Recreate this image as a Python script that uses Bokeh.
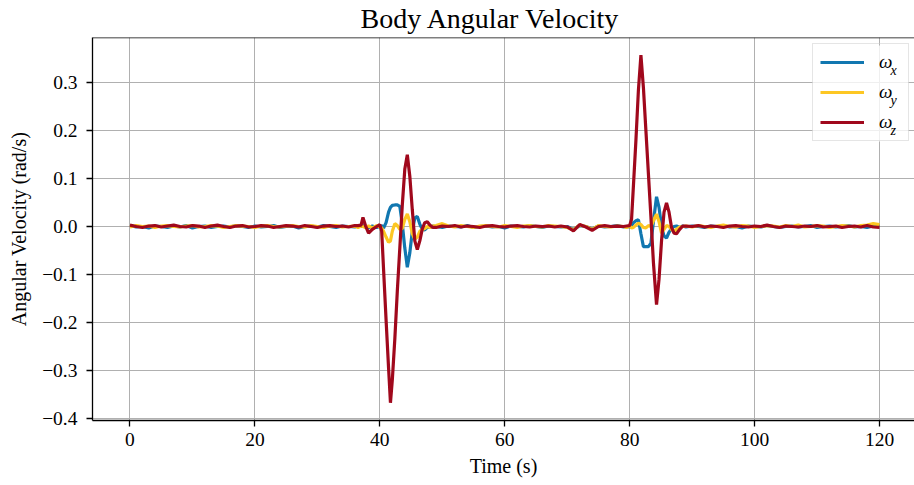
from bokeh.plotting import figure
from bokeh.models import (ColumnDataSource, Legend, LegendItem, Label, Span, BoxAnnotation,
                          Range1d, FixedTicker, CustomJSTickFormatter)
from bokeh.embed import file_html
from bokeh.resources import INLINE

# ---------------- data ----------------
# time samples (s)
t_a = list(range(0, 37))
t_b = [36.5, 37.0, 37.3, 37.7, 38.2, 38.8, 39.5, 40.0, 40.3, 40.6, 41.0, 41.4, 41.7, 42.0, 42.4,
       42.8, 43.2, 43.6, 44.0, 44.4, 44.8, 45.2, 45.6, 46.0, 46.4, 46.8, 47.2, 47.6, 48.0, 48.5]
t_c = list(range(49, 80))
t_d = [79.5, 80.0, 80.3, 80.6, 81.0, 81.4, 81.8, 82.2, 82.6, 83.0, 83.4, 83.8, 84.3, 84.7, 85.1,
       85.5, 85.9, 86.3, 86.7, 87.1, 87.5, 88.0, 88.5]
t_e = list(range(89, 121))

# omega_x (rad/s)
wx_a = [0.002, -0.001, 0.000, -0.003, 0.001, 0.000, -0.002, 0.001, -0.001, 0.002,
        -0.003, 0.000, 0.001, -0.002, 0.000, 0.001, -0.001, 0.002, 0.000, -0.002,
        0.001, -0.001, 0.000, 0.002, -0.002, 0.000, 0.001, -0.003, 0.000, 0.001,
        -0.001, 0.002, 0.000, -0.002, 0.001, 0.000, -0.001]
wx_b = [0.001, 0.000, 0.002, -0.001, -0.003, 0.001, -0.002, 0.000, 0.002, -0.003,
        0.008, 0.030, 0.040, 0.044, 0.045, 0.045, 0.042, 0.005, -0.045, -0.085,
        -0.055, -0.010, 0.018, 0.021, 0.005, -0.006, -0.007, -0.002, -0.002, 0.001]
wx_c = [0.000, -0.002, 0.001, 0.000, -0.001, 0.002, -0.002, 0.000, 0.001, -0.001,
        0.000, -0.003, 0.001, 0.000, -0.001, 0.002, 0.000, -0.002, 0.001, 0.000,
        -0.001, 0.000, -0.006, 0.002, 0.000, -0.005, 0.001, -0.001, 0.000, 0.002,
        -0.001]
wx_d = [0.000, -0.001, 0.002, 0.008, 0.012, 0.014, -0.015, -0.042, -0.042, -0.042,
        -0.035, 0.010, 0.062, 0.040, 0.000, -0.020, -0.024, -0.012, -0.004, 0.000,
        0.001, -0.002, 0.001]
wx_e = [-0.001, 0.001, 0.000, -0.002, 0.001, 0.000, 0.002, -0.001, 0.000, -0.003,
        0.001, 0.000, -0.001, 0.002, 0.000, -0.002, 0.000, 0.001, -0.001, 0.000,
        0.002, -0.002, 0.000, 0.001, -0.001, 0.000, 0.002, -0.001, 0.000, -0.002,
        0.001, 0.003]

# omega_y (rad/s)
wy_a = [-0.001, 0.002, 0.000, 0.001, -0.002, 0.001, 0.002, 0.000, -0.001, 0.001,
        0.002, -0.001, 0.000, 0.002, 0.001, -0.002, 0.000, 0.002, 0.001, 0.000,
        -0.002, 0.001, 0.002, 0.000, -0.001, 0.001, 0.002, 0.000, -0.001, 0.002,
        0.000, -0.002, 0.001, 0.002, -0.001, 0.000, 0.001]
wy_b = [-0.002, 0.001, 0.000, -0.002, 0.001, -0.003, 0.002, -0.001, -0.003, -0.010,
        -0.022, -0.033, -0.030, -0.010, 0.006, 0.002, -0.006, -0.004, 0.015, 0.026,
        0.010, -0.015, -0.027, -0.022, -0.010, -0.006, -0.004, 0.000, -0.002, 0.001]
wy_c = [0.002, 0.006, 0.001, -0.001, 0.002, 0.000, -0.002, 0.001, 0.002, 0.000,
        -0.001, 0.002, 0.000, -0.002, 0.001, 0.002, 0.000, -0.001, 0.002, 0.001,
        0.000, -0.002, -0.007, 0.003, 0.000, -0.006, 0.002, 0.000, -0.001, 0.001,
        0.000]
wy_d = [-0.002, 0.001, -0.003, -0.002, 0.003, 0.007, 0.004, -0.002, -0.003, 0.002,
        0.000, 0.012, 0.026, 0.010, -0.014, -0.006, 0.002, 0.000, -0.006, -0.010,
        -0.006, -0.001, 0.000]
wy_e = [0.001, -0.001, 0.002, 0.000, -0.002, 0.001, 0.003, 0.000, -0.001, 0.002,
        0.001, -0.002, 0.000, 0.002, 0.001, -0.001, 0.002, 0.000, 0.003, -0.001,
        0.000, 0.002, 0.001, -0.002, 0.000, 0.002, 0.001, -0.001, 0.002, 0.003,
        0.006, 0.004]

# omega_z (rad/s)
wz_a = [0.003, 0.000, -0.002, 0.001, 0.002, -0.001, 0.001, 0.003, 0.000, -0.001,
        0.002, 0.001, -0.002, 0.001, 0.003, 0.000, -0.002, 0.001, 0.002, -0.001,
        0.000, 0.002, 0.001, -0.002, 0.000, 0.002, 0.001, -0.001, 0.002, 0.000,
        -0.002, 0.001, 0.002, 0.000, 0.001, -0.001, 0.002]
wz_b = [0.002, 0.003, 0.019, 0.002, -0.014, -0.006, 0.000, 0.004, -0.010, -0.090,
        -0.195, -0.295, -0.368, -0.320, -0.235, -0.135, -0.045, 0.045, 0.120, 0.150,
        0.105, 0.035, -0.030, -0.048, -0.030, -0.005, 0.008, 0.010, 0.003, -0.002]
wz_c = [-0.002, 0.001, 0.000, 0.002, -0.001, 0.001, 0.000, -0.002, 0.001, 0.002,
        0.000, -0.001, 0.001, 0.002, 0.000, -0.001, 0.001, 0.000, 0.001, -0.001,
        0.001, -0.001, -0.009, 0.004, -0.001, -0.008, 0.000, 0.002, 0.000, 0.001,
        0.000]
wz_d = [0.001, 0.002, 0.015, 0.085, 0.180, 0.285, 0.358, 0.290, 0.200, 0.110,
        0.020, -0.075, -0.163, -0.110, -0.030, 0.030, 0.049, 0.030, -0.002, -0.014,
        -0.015, -0.006, 0.001]
wz_e = [0.001, 0.000, 0.002, -0.001, 0.001, 0.000, -0.002, 0.001, 0.002, 0.000,
        -0.001, 0.001, 0.000, 0.003, 0.000, -0.002, 0.001, 0.000, -0.001, 0.001,
        0.000, 0.002, -0.001, 0.000, 0.001, -0.002, 0.000, 0.001, -0.001, 0.002,
        -0.001, -0.002]

x_ticks = [0, 20, 40, 60, 80, 100, 120]
y_ticks = [-0.4, -0.3, -0.2, -0.1, 0.0, 0.1, 0.2, 0.3]
title_text = "Body Angular Velocity"
series_labels = ["ω", "ω", "ω"]
series_subs = ["x", "y", "z"]
colors = ["#1177b0", "#fdc723", "#a0081c"]

time = t_a + t_b + t_c + t_d + t_e
wx = wx_a + wx_b + wx_c + wx_d + wx_e
wy = wy_a + wy_b + wy_c + wy_d + wy_e
wz = wz_a + wz_b + wz_c + wz_d + wz_e
assert len(time) == len(wx) == len(wy) == len(wz)

src = ColumnDataSource(dict(t=time, wx=wx, wy=wy, wz=wz))

SERIF = "Liberation Serif"
y_end = 0.3946

p = figure(width=914, height=485, output_backend="svg", toolbar_location=None,
           x_range=Range1d(-6, 125.6), y_range=Range1d(-0.405, y_end),
           min_border_left=92, min_border_right=0, min_border_top=37, min_border_bottom=65,
           title=title_text)

p.title.text_font = SERIF
p.title.text_font_style = "normal"
p.title.text_font_size = "28px"
p.title.text_color = "black"
p.title.align = "left"
p.title.offset = 268
p.title.vertical_align = "top"
p.title.standoff = 4

p.outline_line_color = None
p.background_fill_color = "white"
p.border_fill_color = "white"

for ax in (p.xaxis[0], p.yaxis[0]):
    ax.axis_line_color = "black"
    ax.axis_line_width = 1.3
    ax.major_tick_line_color = "black"
    ax.major_tick_line_width = 1.3
    ax.major_tick_out = 6
    ax.major_tick_in = 0
    ax.minor_tick_line_color = None
    ax.major_label_text_font = SERIF
    ax.major_label_text_font_size = "19.5px"
    ax.major_label_text_color = "black"
    ax.axis_label_text_font = SERIF
    ax.axis_label_text_font_style = "normal"
    ax.axis_label_text_font_size = "20px"
    ax.axis_label_text_color = "black"

p.xaxis[0].major_label_standoff = 6
p.xaxis[0].axis_label_standoff = 6
p.yaxis[0].major_label_standoff = 9
p.yaxis[0].axis_label_standoff = 9

p.xaxis[0].ticker = FixedTicker(ticks=x_ticks)
p.yaxis[0].ticker = FixedTicker(ticks=y_ticks)
p.yaxis[0].formatter = CustomJSTickFormatter(
    code="return (tick < -1e-9 ? '\u2212' : '') + Math.abs(tick).toFixed(1);")
p.xaxis[0].axis_label = "Time (s)"
p.yaxis[0].axis_label = "Angular Velocity (rad/s)"

p.grid.grid_line_color = "#b0b0b0"
p.grid.grid_line_width = 1

# top spine
p.add_layout(Span(location=y_end, dimension="width", line_color="black", line_width=1.3))

# translucent legend background (under the lines, over the grid)
p.add_layout(BoxAnnotation(left=720, right=816, bottom=279, top=375,
                           left_units="screen", right_units="screen",
                           bottom_units="screen", top_units="screen",
                           fill_color="white", fill_alpha=0.8, line_color=None,
                           level="underlay"))

r_x = p.line("t", "wx", source=src, line_color=colors[0], line_width=3.2)
r_y = p.line("t", "wy", source=src, line_color=colors[1], line_width=3.2)
r_z = p.line("t", "wz", source=src, line_color=colors[2], line_width=3.2)

legend = Legend(items=[LegendItem(label=series_labels[i], renderers=[r])
                       for i, r in enumerate([r_x, r_y, r_z])],
                location=(720, 279), orientation="vertical",
                padding=7, spacing=8, margin=0,
                glyph_width=44, glyph_height=22, label_height=22, label_width=22,
                label_standoff=15,
                label_text_font=SERIF, label_text_font_style="italic",
                label_text_font_size="19px", label_text_color="black",
                border_line_color="#cccccc", border_line_width=1,
                background_fill_alpha=0)
p.add_layout(legend)

for i, sub in enumerate(series_subs):
    p.add_layout(Label(x=798, y=350 - 30 * i, x_units="screen", y_units="screen",
                       text=sub, text_font=SERIF, text_font_style="italic",
                       text_font_size="14px", text_baseline="middle", text_color="black"))

open("out.html", "w").write(file_html(p, INLINE))
